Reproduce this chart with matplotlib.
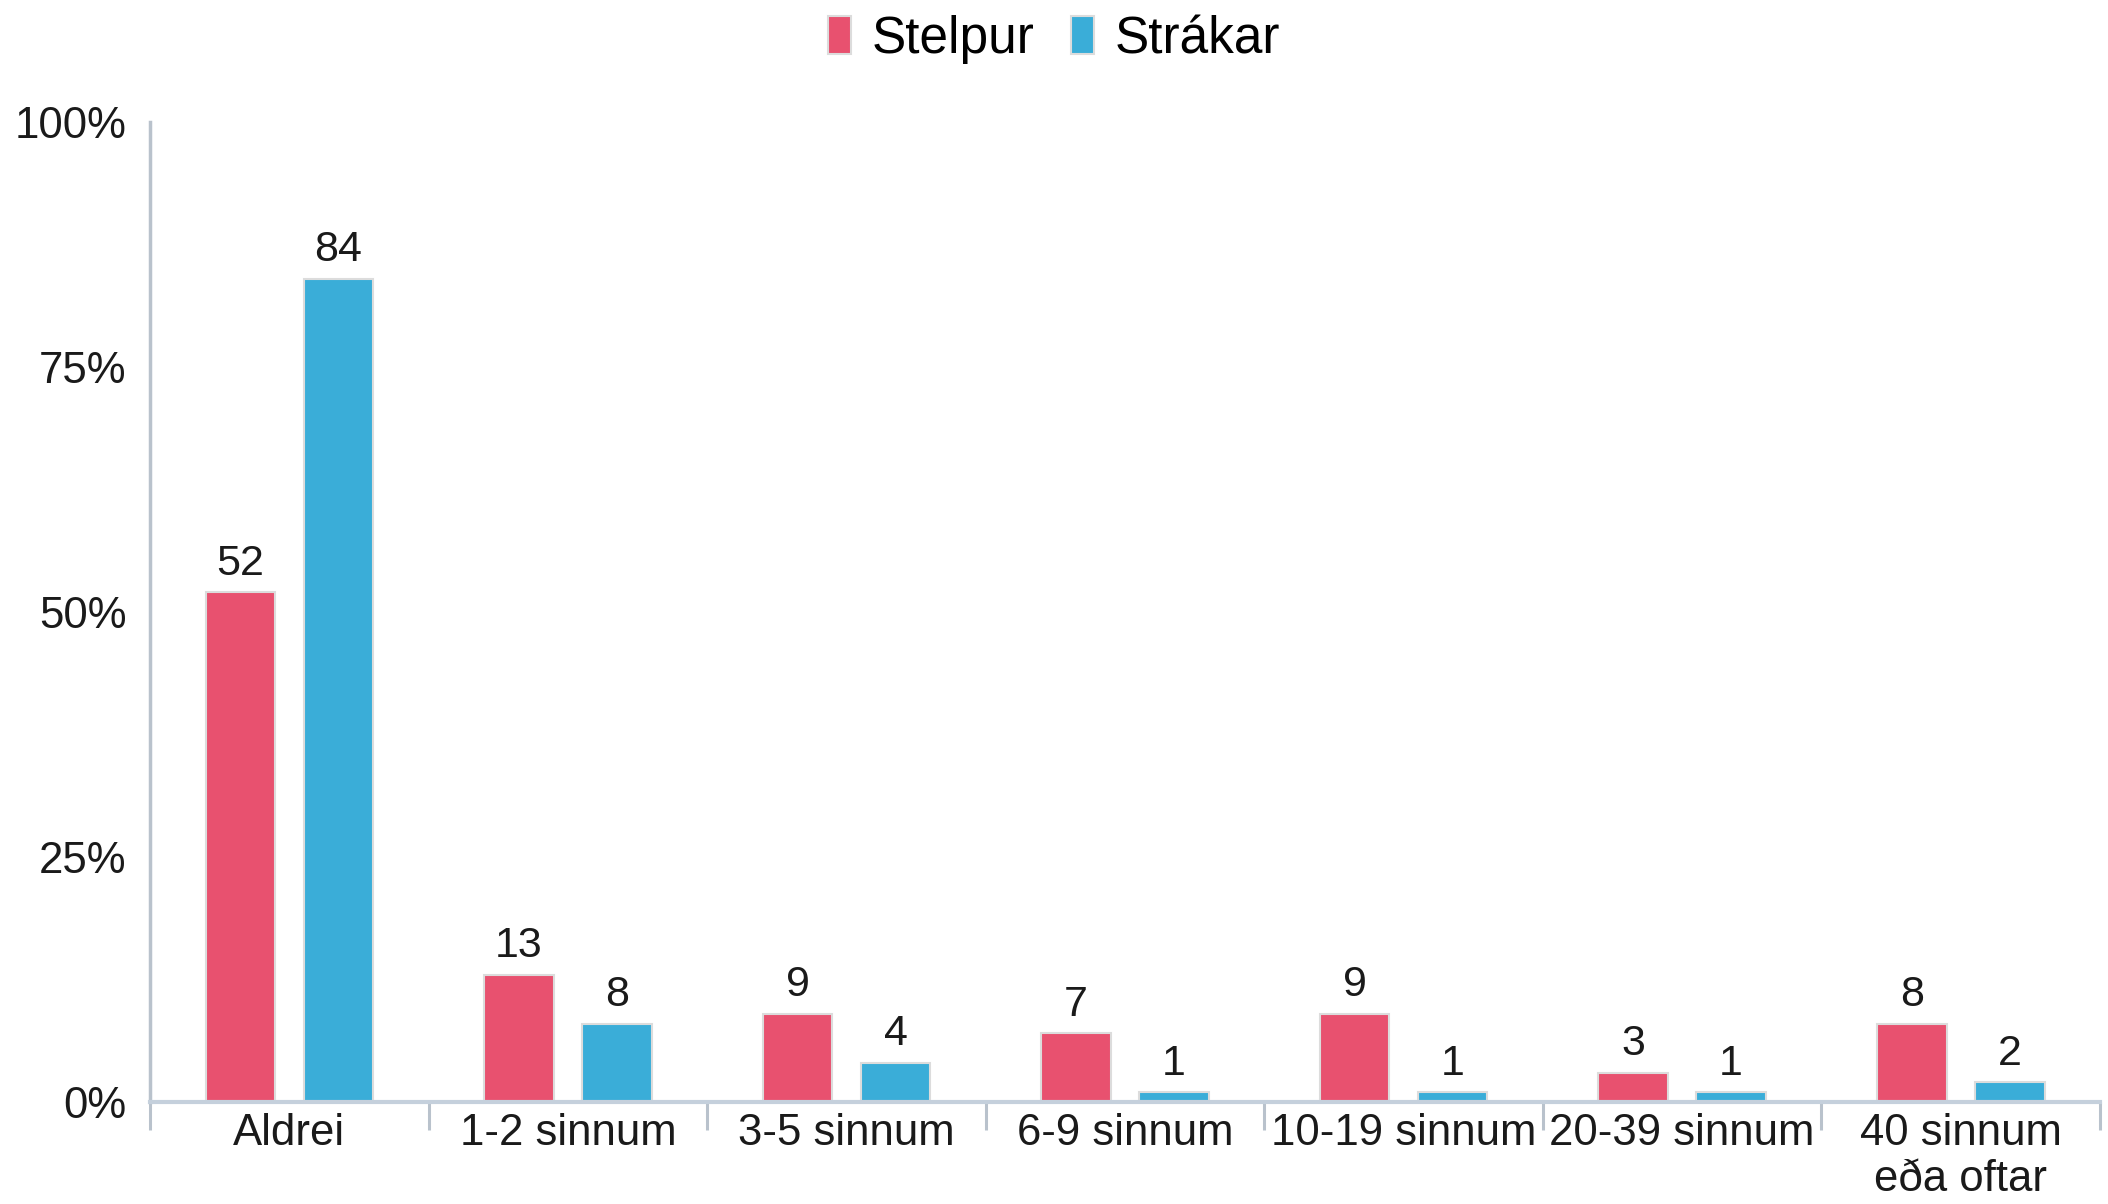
import matplotlib.pyplot as plt
import numpy as np

plt.rcParams['font.family'] = ['Liberation Sans', 'DejaVu Sans']

categories = ['Aldrei', '1-2 sinnum', '3-5 sinnum', '6-9 sinnum',
              '10-19 sinnum', '20-39 sinnum', '40 sinnum\neða oftar']
stelpur = [52, 13, 9, 7, 9, 3, 8]
strakar = [84, 8, 4, 1, 1, 1, 2]
series_names = ['Stelpur', 'Strákar']
y_ticks = [0, 25, 50, 75, 100]
y_labels = ['0%', '25%', '50%', '75%', '100%']

pink = '#e8516f'
blue = '#3aadd8'
axis_col = '#b9c2cc'

fig = plt.figure(figsize=(21.08, 12.04), dpi=100)
ax = fig.add_axes([0.0712, 0.0847, 0.925, 0.814])

x = np.arange(len(categories))
w = 0.25
off = 0.176
b1 = ax.bar(x - off, stelpur, w, color=pink, edgecolor='#dcdcdc', linewidth=1.5,
            label=series_names[0])
b2 = ax.bar(x + off, strakar, w, color=blue, edgecolor='#dcdcdc', linewidth=1.5,
            label=series_names[1])

for bars, vals in ((b1, stelpur), (b2, strakar)):
    for rect, v in zip(bars, vals):
        ax.annotate(str(v), (rect.get_x() + rect.get_width() / 2, v),
                    xytext=(0, 6), textcoords='offset points',
                    ha='center', va='bottom', fontsize=31, color='#1a1a1a')

ax.set_xlim(-0.5, len(categories) - 0.5)
ax.set_ylim(0, 100)
ax.set_yticks(y_ticks)
ax.set_yticklabels(y_labels)
ax.tick_params(axis='y', length=0, pad=17, labelsize=31.5, labelcolor='#1a1a1a')

ax.set_xticks(x)
ax.set_xticklabels(categories, linespacing=1.15)
ax.tick_params(axis='x', which='major', length=0, pad=8, labelsize=31.5,
               labelcolor='#1a1a1a')
ax.set_xticks(np.arange(len(categories) + 1) - 0.5, minor=True)
ax.tick_params(axis='x', which='minor', length=20, width=2.2, color=axis_col,
               direction='out')

for s in ['top', 'right']:
    ax.spines[s].set_visible(False)
ax.spines['left'].set_color(axis_col)
ax.spines['left'].set_linewidth(2.5)
ax.spines['bottom'].set_color('#c5d0dc')
ax.spines['bottom'].set_linewidth(3)

fig.legend(handles=[b1, b2], labels=series_names, loc='center',
           bbox_to_anchor=(0.5, 0.967), ncol=2, frameon=False, fontsize=37,
           handlelength=0.45, handleheight=0.75, handletextpad=0.4,
           columnspacing=0.7)

fig.savefig('out.png', dpi=100)
